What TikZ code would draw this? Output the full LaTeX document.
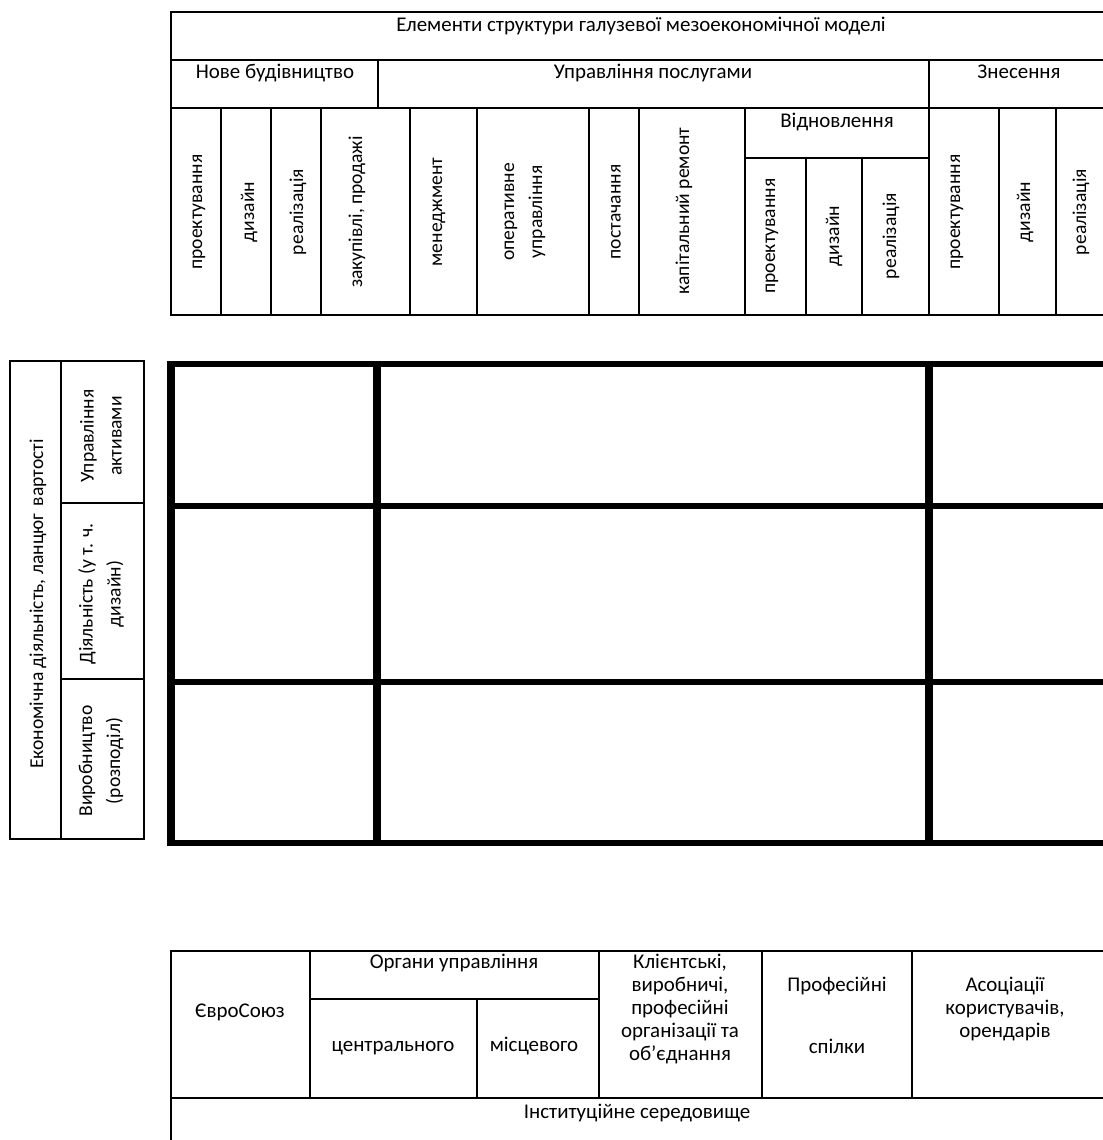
\documentclass[tikz,border=0pt]{standalone}
\usepackage{fontspec}
\setmainfont{Carlito}
\begin{document}
\begin{tikzpicture}[x=0.75pt,y=-0.75pt,
  thin line/.style={line width=1.8pt, line cap=rect},
  vthick/.style={line width=6pt},
  hthick/.style={line width=4.5pt},
  txt/.style={font=\fontsize{15.7}{17}\selectfont, inner sep=0pt, anchor=mid},
  rtxt/.style={font=\fontsize{14.7}{21}\selectfont, inner sep=0pt, align=center, rotate=90}]
\useasboundingbox (0,0) rectangle (1103,1140);

% ---------------- top table ----------------
\foreach \yy in {12,60,108,315} \draw[thin line] (171,\yy) -- (1108,\yy);
\draw[thin line] (171,12) -- (171,315);
\draw[thin line] (378,60) -- (378,108);
\draw[thin line] (929,60) -- (929,315);
\foreach \xx in {221,271,321,410,477,589,639,745,999,1056} \draw[thin line] (\xx,108) -- (\xx,315);
\draw[thin line] (745,158) -- (929,158);
\foreach \xx in {806,862} \draw[thin line] (\xx,158) -- (\xx,315);

\node[txt] (title) at (641,28) {Елементи структури галузевої мезоекономічної моделі};
\node[txt] (nb) at (275,75) {Нове будівництво};
\node[txt] (up) at (653,75) {Управління послугами};
\node[txt] (zn) at (1019,75) {Знесення};
\node[txt] (vid) at (837,124) {Відновлення};

\node[rtxt] (t1) at (199,212) {проектування};
\node[rtxt] (t2) at (249,212) {дизайн};
\node[rtxt] (t3) at (298,212) {реалізація};
\node[rtxt] (t4) at (357,212) {закупівлі, продажі};
\node[rtxt] (t5) at (439,212) {менеджмент};
\node[rtxt] (t6) at (525,212) {оперативне\\управління};
\node[rtxt] (t7) at (616,212) {постачання};
\node[rtxt] (t8) at (684,211) {капітальний ремонт};
\node[rtxt] (t9) at (772,236) {проектування};
\node[rtxt] (t10) at (834,236) {дизайн};
\node[rtxt] (t11) at (891,236) {реалізація};
\node[rtxt] (t12) at (957,212) {проектування};
\node[rtxt] (t13) at (1025,212) {дизайн};
\node[rtxt] (t14) at (1081,212) {реалізація};

% ---------------- left panel ----------------
\draw[thin line] (10,361) rectangle (144,839);
\draw[thin line] (61,361) -- (61,839);
\draw[thin line] (61,503) -- (144,503);
\draw[thin line] (61,679) -- (144,679);
\node[rtxt] (ek) at (38,604) {Економічна діяльність, ланцюг\hspace{2pt} вартості};
\node[rtxt] (ua) at (101,436) {Управління\\активами};
\node[rtxt] (dl) at (101,594) {Діяльність (у т. ч.\\дизайн)};
\node[rtxt] (vr) at (101,761) {Виробництво\\(розподіл)};

% ---------------- thick grid ----------------
\foreach \yy in {364,506,682,843} \draw[hthick] (167,\yy) -- (1108,\yy);
\foreach \xx in {171,377,929} \draw[vthick] (\xx,361.75) -- (\xx,845.25);

% ---------------- bottom table ----------------
\draw[thin line] (171,951) -- (1108,951);
\draw[thin line] (171,1098) -- (1108,1098);
\draw[thin line] (310,999) -- (599,999);
\draw[thin line] (171,951) -- (171,1150);
\foreach \xx in {310,599,762,912} \draw[thin line] (\xx,951) -- (\xx,1098);
\draw[thin line] (477,999) -- (477,1098);

\node[txt] (eu) at (240,1014) {ЄвроСоюз};
\node[txt] (org) at (454,965) {Органи управління};
\node[txt] (cen) at (393,1048) {центрального};
\node[txt] (mis) at (534,1048) {місцевого};
\node[txt] (kl1) at (680,965) {Клієнтські,};
\node[txt] (kl2) at (680,988) {виробничі,};
\node[txt] (kl3) at (680,1011) {професійні};
\node[txt] (kl4) at (680,1034) {організації та};
\node[txt] (kl5) at (680,1057) {об’єднання};
\node[txt] (pr1) at (837,988) {Професійні};
\node[txt] (pr2) at (837,1050) {спілки};
\node[txt] (as1) at (1005,988) {Асоціації};
\node[txt] (as2) at (1005,1011) {користувачів,};
\node[txt] (as3) at (1005,1034) {орендарів};
\node[txt] (inst) at (637,1115) {Інституційне середовище};
\end{tikzpicture}
\end{document}
